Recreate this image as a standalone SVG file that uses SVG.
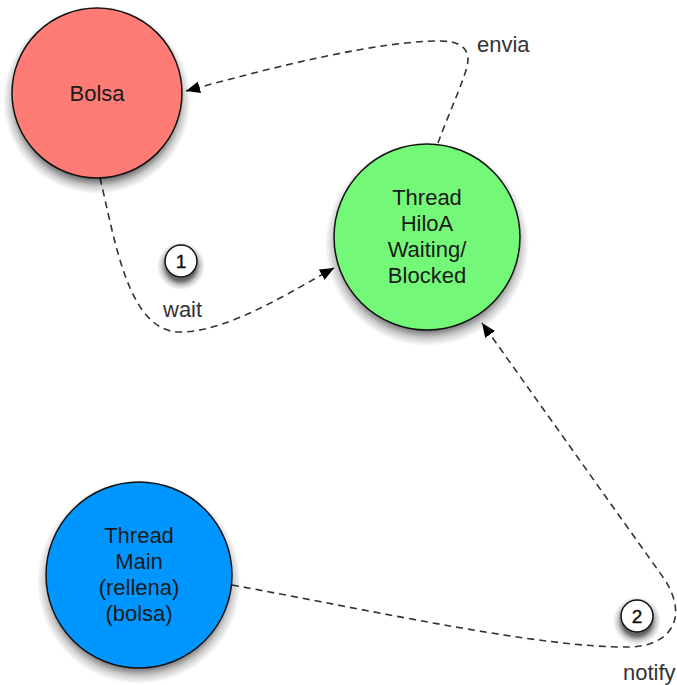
<svg xmlns="http://www.w3.org/2000/svg" width="677" height="685" viewBox="0 0 677 685">
<defs>
<style>
.node{stroke:#111;stroke-width:1.5}
.t{font-family:"Liberation Sans",Arial,sans-serif;font-size:22px;fill:#1a1a1a;text-anchor:middle}
.lbl{font-family:"Liberation Sans",Arial,sans-serif;font-size:22px;fill:#333}
.badge{fill:#fff;stroke:#111;stroke-width:1.5}
.bt{font-family:"Liberation Sans",Arial,sans-serif;font-size:19px;fill:#111;text-anchor:middle;stroke:#111;stroke-width:0.4}
.edge{fill:none;stroke:#333;stroke-width:1.6;stroke-dasharray:7,5;marker-end:url(#ah)}
.shadow{fill:url(#shg)}
.bshadow{fill:url(#bshg)}
</style>
<radialGradient id="shg">
<stop offset="0.84" stop-color="#000" stop-opacity="0.55"/>
<stop offset="0.92" stop-color="#000" stop-opacity="0.2"/>
<stop offset="1" stop-color="#000" stop-opacity="0"/>
</radialGradient>
<radialGradient id="bshg">
<stop offset="0.6" stop-color="#000" stop-opacity="0.6"/>
<stop offset="0.8" stop-color="#000" stop-opacity="0.2"/>
<stop offset="1" stop-color="#000" stop-opacity="0"/>
</radialGradient>
<marker id="ah" markerUnits="userSpaceOnUse" markerWidth="16" markerHeight="12" refX="14" refY="6" orient="auto">
<path d="M0,0 L14,6 L0,12 Z" fill="#000"/>
</marker>
</defs>
<g id="connectors">
<path class="edge" d="M438,143 C450,110 468,72 468,60 C468,46 457,41 440,41 C380,41 280,65 186,91"/>
<path class="edge" d="M100,178 C115,240 128,332 180,332 C228,332 290,292 334,268"/>
<path class="edge" d="M232,585 C380,612 540,648 630,647 C668,646 690,620 665,580 L482,323"/>
</g>
<g id="node-bolsa">
<circle class="shadow" cx="97" cy="100" r="94"/>
<circle class="node" cx="97" cy="93" r="85" fill="#ff7b76"/>
<text class="t" x="97" y="101">Bolsa</text>
</g>
<g id="node-hiloa">
<circle class="shadow" cx="427" cy="244" r="102"/>
<circle class="node" cx="427" cy="237" r="93" fill="#74f878"/>
<text class="t" x="427" y="205">Thread</text>
<text class="t" x="427" y="231">HiloA</text>
<text class="t" x="427" y="257">Waiting/</text>
<text class="t" x="427" y="283">Blocked</text>
</g>
<g id="node-main">
<circle class="shadow" cx="139" cy="582" r="102"/>
<circle class="node" cx="139" cy="575" r="93" fill="#0096ff"/>
<text class="t" x="139" y="543">Thread</text>
<text class="t" x="139" y="569">Main</text>
<text class="t" x="139" y="595">(rellena)</text>
<text class="t" x="139" y="621">(bolsa)</text>
</g>
<g id="badge-1">
<circle class="bshadow" cx="181" cy="266" r="24"/>
<circle class="badge" cx="181" cy="261" r="16"/>
<text class="bt" x="181" y="268">1</text>
</g>
<g id="badge-2">
<circle class="bshadow" cx="637" cy="621" r="24"/>
<circle class="badge" cx="637" cy="616" r="16"/>
<text class="bt" x="637" y="623">2</text>
</g>
<g id="labels">
<text class="lbl" x="477" y="52">envia</text>
<text class="lbl" x="163" y="317">wait</text>
<text class="lbl" x="623" y="680">notify</text>
</g>
</svg>
